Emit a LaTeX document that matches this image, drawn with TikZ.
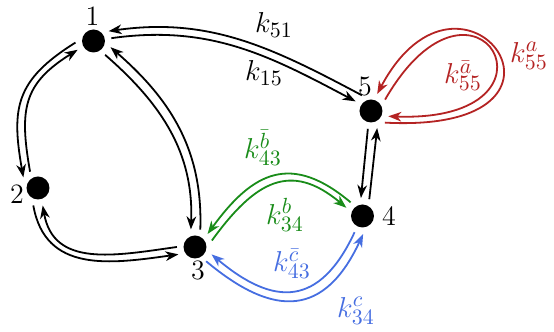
\documentclass[tikz,border=0pt]{standalone}
\usetikzlibrary{arrows.meta}
\definecolor{myred}{RGB}{180,35,35}
\definecolor{mygreen}{RGB}{25,140,25}
\definecolor{myblue}{RGB}{70,110,225}
\begin{document}
\begin{tikzpicture}[x=0.5pt,y=0.5pt,
  vtx/.style={circle,fill=black,inner sep=0pt,minimum size=11.5pt,outer sep=3.3pt},
  num/.style={font=\fontsize{14}{16}\selectfont, inner sep=0pt},
  rate/.style={font=\fontsize{15.8}{18}\selectfont, inner sep=0pt},
  arr/.style={line width=0.9pt, -{Stealth[length=6.5pt,width=4.8pt,inset=2pt]}},
]
\useasboundingbox (0,0) rectangle (554,332);
% vertices
\node[vtx] (n1) at (93.5,291) {};
\node[vtx] (n2) at (38,144) {};
\node[vtx] (n3) at (195,85) {};
\node[vtx] (n4) at (362.5,116) {};
\node[vtx] (n5) at (371,221) {};
% vertex numbers
\node[num] (t1) at (92.5,316) {1};
\node[num] (t2) at (17,138) {2};
\node[num] (t3) at (198,62) {3};
\node[num] (t4) at (389,116) {4};
\node[num] (t5) at (365,245) {5};
% rate labels
\node[rate] (l51) at (274,307) {$k_{51}$};
\node[rate] (l15) at (264,259) {$k_{15}$};
\node[rate,text=mygreen] (l43b) at (263,184) {$k^{\bar b}_{43}$};
\node[rate,text=mygreen] (l34b) at (285,117) {$k^{b}_{34}$};
\node[rate,text=myblue] (l43c) at (292,68) {$k^{\bar c}_{43}$};
\node[rate,text=myblue] (l34c) at (356,21) {$k^{c}_{34}$};
\node[rate,text=myred] (l55a) at (463,256) {$k^{\bar a}_{55}$};
\node[rate,text=myred] (l55b) at (529,276) {$k^{a}_{55}$};
% 1-5
\draw[arr] (n5.120) to[out=152,in=8] (n1.33);
\draw[arr] (n1.9) to[out=8,in=152] (n5.148);
% 1-2
\draw[arr] (n1.185) to[out=212,in=100,looseness=1.25] (n2.144);
\draw[arr] (n2.116) to[out=100,in=212,looseness=1.25] (n1.209);
% 2-3
\draw[arr] (n3.180) to[out=188,in=-80,looseness=1.15] (n2.-75);
\draw[arr] (n2.-105) to[out=-80,in=188,looseness=1.15] (n3.204);
% 1-3
\draw[arr] (n1.-50) to[out=-41,in=88] (n3.103);
\draw[arr] (n3.73) to[out=88,in=-41] (n1.-20);
% 5-4
\draw[arr] (n5.-100) -- (n4.95);
\draw[arr] (n4.68) -- (n5.-70);
% green 3-4
\draw[arr,mygreen] (n4.131) to[out=140,in=54,looseness=1.35] (n3.46);
\draw[arr,mygreen] (n3.21) to[out=54,in=140,looseness=1.35] (n4.153);
% blue 3-4
\draw[arr,myblue] (n4.-116) to[out=-115,in=-40,looseness=1.45] (n3.-24);
\draw[arr,myblue] (n3.-52) to[out=-40,in=-115,looseness=1.45] (n4.-88);
% red loops at 5
\draw[arr,myred] (n5.-40) .. controls +(-3:225) and +(62:182) .. (n5.70);
\draw[arr,myred] (n5.39) .. controls +(60:182) and +(-2:190) .. (n5.-17);
\end{tikzpicture}
\end{document}
